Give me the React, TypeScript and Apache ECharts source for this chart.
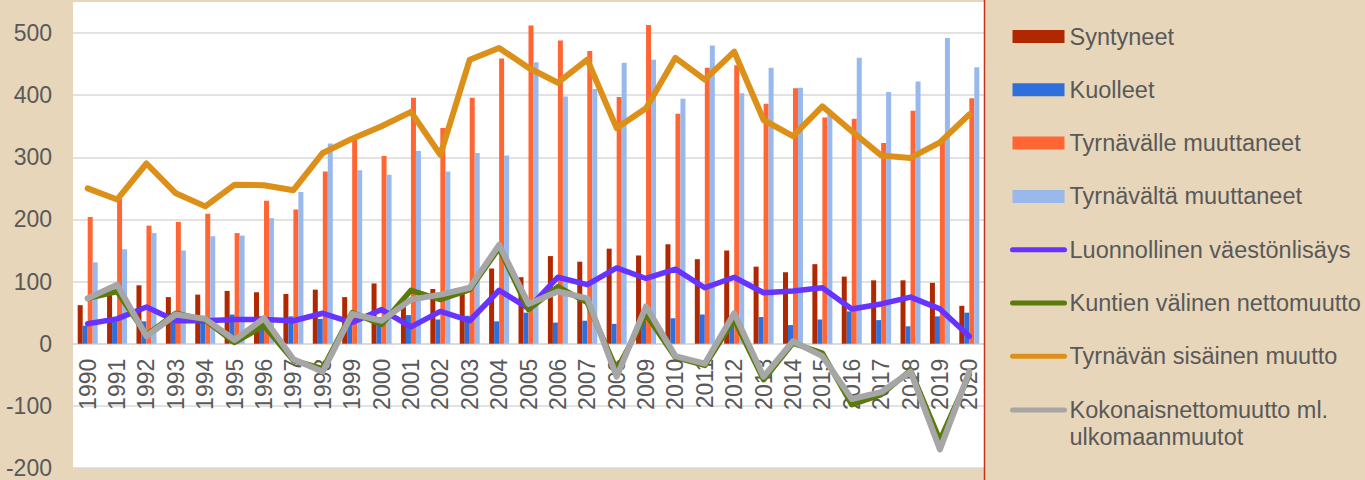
import React, { useEffect, useRef } from "react";
import * as echarts from "echarts";

const years = ["1990","1991","1992","1993","1994","1995","1996","1997","1998","1999","2000","2001","2002","2003","2004","2005","2006","2007","2008","2009","2010","2011","2012","2013","2014","2015","2016","2017","2018","2019","2020"];

const syntyneet = [62, 80, 94, 75, 79, 85, 83, 80, 87, 75, 97, 73, 88, 82, 121, 107, 141, 132, 153, 142, 160, 136, 150, 124, 115, 128, 108, 102, 102, 98, 61];
const kuolleet = [29, 36, 36, 38, 45, 47, 44, 44, 40, 31, 43, 46, 39, 45, 36, 50, 34, 37, 32, 37, 41, 47, 43, 43, 30, 39, 52, 38, 28, 44, 50];
const tyrnavalle = [204, 233, 190, 196, 209, 178, 230, 216, 277, 328, 302, 396, 347, 396, 459, 512, 488, 471, 397, 513, 370, 444, 448, 386, 411, 364, 362, 323, 375, 325, 395];
const tyrnavalta = [131, 152, 178, 150, 173, 174, 202, 244, 322, 279, 272, 310, 277, 307, 303, 453, 398, 410, 452, 457, 394, 480, 403, 444, 412, 370, 460, 405, 422, 492, 445];
const luonnollinen = [32, 40, 59, 37, 37, 39, 39, 37, 49, 34, 55, 27, 52, 37, 86, 57, 107, 95, 122, 105, 120, 90, 107, 82, 85, 90, 56, 64, 75, 56, 12];
const kuntien = [73, 84, 14, 49, 38, 2, 29, -27, -40, 50, 31, 86, 71, 87, 154, 55, 92, 66, -42, 47, -22, -35, 39, -58, 1, -15, -98, -82, -43, -155, -50];
const sisainen = [250, 232, 290, 242, 221, 256, 255, 247, 307, 330, 350, 373, 304, 457, 476, 444, 420, 457, 347, 379, 460, 425, 470, 360, 334, 382, 342, 303, 299, 324, 369];
const kokonais = [73, 95, 12, 47, 40, 6, 41, -25, -45, 48, 37, 71, 79, 90, 159, 64, 84, 73, -53, 60, -20, -32, 49, -53, 4, -20, -89, -78, -45, -170, -45];

const yTicks = { min: -200, max: 500, interval: 100 };

const FONT = "'Liberation Sans', Arial, sans-serif";
const TXT = "#595959";

const NAMES = {
  syn: "Syntyneet",
  kuo: "Kuolleet",
  tle: "Tyrnävälle muuttaneet",
  tta: "Tyrnävältä muuttaneet",
  luo: "Luonnollinen väestönlisäys",
  kun: "Kuntien välinen nettomuutto",
  sis: "Tyrnävän sisäinen muutto",
  kok: "Kokonaisnettomuutto ml. ulkomaanmuutot",
};

const hiddenSymbol = { color: "transparent", borderColor: "transparent", borderWidth: 0, opacity: 0 };
const legendLine = { width: 5, cap: "round" };

const GRID_TOP = 33;
const GRID_BOTTOM = 12;
const CHART_H = 480;

export default function App() {
  const ref = useRef<HTMLDivElement>(null);
  useEffect(() => {
    document.body.style.margin = "0";
    const chart = echarts.init(ref.current!, null, { renderer: "svg" });
    const plotH = CHART_H - GRID_TOP - GRID_BOTTOM;
    const zeroFromBottom = (plotH * (0 - yTicks.min)) / (yTicks.max - yTicks.min);
    const bar = (name: string, data: number[], color: string) => ({
      type: "bar",
      name,
      data,
      barWidth: 5,
      barGap: "0%",
      clip: false,
      itemStyle: { color },
    });
    const line = (name: string, data: number[], color: string, width: number) => ({
      type: "line",
      name,
      data,
      symbol: "none",
      showSymbol: false,
      clip: false,
      lineStyle: { color, width, cap: "round", join: "round" },
      itemStyle: { color },
    });
    chart.setOption({
      animation: false,
      backgroundColor: "#E7D6B9",
      textStyle: { fontFamily: FONT },
      graphic: [
        { type: "rect", z: -10, shape: { x: 73, y: 2, width: 911, height: 466 }, style: { fill: "#ffffff" } },
        { type: "line", z: 10, shape: { x1: 984.5, y1: 0, x2: 984.5, y2: 480 }, style: { stroke: "#C0341C", lineWidth: 1.5 } },
      ],
      grid: { left: 73, right: 381, top: GRID_TOP, bottom: GRID_BOTTOM, containLabel: false, outerBoundsMode: "none" },
      legend: [
        {
          orient: "vertical",
          left: 1010,
          top: 23.5,
          padding: 0,
          itemWidth: 52,
          itemHeight: 13,
          itemGap: 27.3,
          textStyle: { fontSize: 23.5, color: TXT, lineHeight: 26, fontFamily: FONT },
          data: [
            { name: NAMES.syn, icon: "rect" },
            { name: NAMES.kuo, icon: "rect" },
            { name: NAMES.tle, icon: "rect" },
            { name: NAMES.tta, icon: "rect" },
            { name: NAMES.luo, itemStyle: hiddenSymbol, lineStyle: legendLine },
            { name: NAMES.kun, itemStyle: hiddenSymbol, lineStyle: legendLine },
            { name: NAMES.sis, itemStyle: hiddenSymbol, lineStyle: legendLine },
          ],
        },
        {
          orient: "vertical",
          left: 1010,
          top: 369.5,
          padding: 0,
          itemWidth: 52,
          itemHeight: 13,
          formatter: () => " \nKokonaisnettomuutto ml.\nulkomaanmuutot",
          textStyle: { fontSize: 23.5, color: TXT, lineHeight: 27, fontFamily: FONT },
          data: [{ name: NAMES.kok, itemStyle: hiddenSymbol, lineStyle: legendLine }],
        },
      ],
      xAxis: {
        type: "category",
        data: years,
        boundaryGap: true,
        position: "bottom",
        offset: -zeroFromBottom,
        axisTick: { show: false },
        axisLine: { show: true, onZero: false, lineStyle: { color: "#D9D9D9", width: 1.5 } },
        axisLabel: { rotate: 90, interval: 0, fontSize: 23, color: TXT, margin: 15, fontFamily: FONT },
        splitLine: { show: false },
      },
      yAxis: {
        type: "value",
        min: yTicks.min,
        max: yTicks.max,
        interval: yTicks.interval,
        axisLine: { show: false },
        axisTick: { show: false },
        axisLabel: { fontSize: 23, color: TXT, margin: 21, fontFamily: FONT },
        splitLine: { show: true, lineStyle: { color: "#D9D9D9", width: 1.5 } },
      },
      series: [
        bar(NAMES.syn, syntyneet, "#B02800"),
        bar(NAMES.kuo, kuolleet, "#2F6FDC"),
        bar(NAMES.tle, tyrnavalle, "#FF6633"),
        bar(NAMES.tta, tyrnavalta, "#99B8EC"),
        line(NAMES.luo, luonnollinen, "#6633FF", 5.5),
        line(NAMES.kun, kuntien, "#5A7A0A", 5.5),
        line(NAMES.sis, sisainen, "#DC9019", 6),
        line(NAMES.kok, kokonais, "#A6A6A6", 6),
      ],
    });
    return () => chart.dispose();
  }, []);
  return <div ref={ref} style={{ width: 1365, height: 480 }} />;
}
